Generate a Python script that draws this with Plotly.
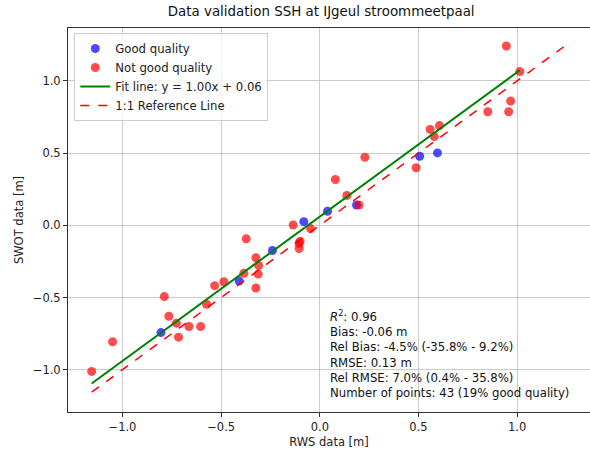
import plotly.graph_objects as go
import numpy as np

good_x = [-0.805, -0.409, -0.240, -0.081, 0.039, 0.186, 0.506, 0.596]
good_y = [-0.743, -0.386, -0.175, 0.025, 0.097, 0.140, 0.478, 0.501]

bad_x = [-1.156, -1.050, -0.788, -0.765, -0.727, -0.716, -0.663, -0.604, -0.574,
         -0.533, -0.486, -0.385, -0.373, -0.324, -0.310, -0.312, -0.324, -0.135,
         -0.105, -0.105, -0.100, -0.047, 0.079, 0.137, 0.199, 0.228, 0.488, 0.559,
         0.580, 0.606, 0.851, 0.957, 0.967, 0.945, 1.013]
bad_y = [-1.012, -0.807, -0.494, -0.630, -0.678, -0.775, -0.701, -0.701, -0.547,
         -0.418, -0.391, -0.333, -0.094, -0.225, -0.278, -0.338, -0.434, 0.002,
         -0.126, -0.161, -0.110, -0.023, 0.317, 0.207, 0.140, 0.471, 0.398, 0.664,
         0.614, 0.690, 0.786, 0.786, 0.860, 1.241, 1.064]

fit_slope = 1.00
fit_intercept = 0.06

stats_lines = [
    "<i>R</i><sup>2</sup>: 0.96",
    "Bias: -0.06 m",
    "Rel Bias: -4.5% (-35.8% - 9.2%)",
    "RMSE: 0.13 m",
    "Rel RMSE: 7.0% (0.4% - 35.8%)",
    "Number of points: 43 (19% good quality)",
]

all_x = np.array(good_x + bad_x)
all_y = np.array(good_y + bad_y)
fx = np.array([all_x.min(), all_x.max()])
fy = fit_slope * fx + fit_intercept
lo = min(all_x.min(), all_y.min())
hi = max(all_x.max(), all_y.max())

font = "DejaVu Sans"
fig = go.Figure()
fig.add_trace(go.Scatter(x=good_x, y=good_y, mode="markers", name="Good quality",
                         marker=dict(color="rgba(0,0,255,0.7)", size=9, line=dict(width=0))))
fig.add_trace(go.Scatter(x=bad_x, y=bad_y, mode="markers", name="Not good quality",
                         marker=dict(color="rgba(255,0,0,0.7)", size=9, line=dict(width=0))))
fig.add_trace(go.Scatter(x=fx, y=fy, mode="lines",
                         name=f"Fit line: y = {fit_slope:.2f}x + {fit_intercept:.2f}",
                         line=dict(color="green", width=2)))
fig.add_trace(go.Scatter(x=[lo, hi], y=[lo, hi], mode="lines", name="1:1 Reference Line",
                         line=dict(color="red", width=1.5, dash="dash")))

axis_common = dict(
    showgrid=True, gridcolor="rgba(190,190,190,0.8)", gridwidth=1,
    zeroline=False, showline=True, linecolor="#333", linewidth=1,
    ticks="outside", ticklen=4, tickcolor="#333",
    tickvals=[-1.0, -0.5, 0.0, 0.5, 1.0], tickformat=".1f",
    tickfont=dict(family=font, size=11.5, color="#222"),
)
fig.update_layout(
    width=590, height=452,
    margin=dict(l=68, r=0, t=28, b=40),
    plot_bgcolor="white", paper_bgcolor="white",
    font=dict(family=font, size=11.5, color="#222"),
    title=dict(text="Data validation SSH at IJgeul stroommeetpaal", x=0.485, xref="paper",
               xanchor="center", y=0.974, yanchor="middle", yref="container",
               font=dict(family=font, size=13.4, color="#111")),
    xaxis=dict(range=[-1.276, 1.369], mirror=True,
               title=dict(text="RWS data [m]", font=dict(family=font, size=11.5), standoff=5),
               **axis_common),
    yaxis=dict(range=[-1.293, 1.366], mirror=False,
               title=dict(text="SWOT data [m]", font=dict(family=font, size=11.5), standoff=6),
               **axis_common),
    legend=dict(x=0.012, y=0.987, xanchor="left", yanchor="top",
                bgcolor="rgba(255,255,255,0.8)", bordercolor="#ccc", borderwidth=1,
                font=dict(family=font, size=11.7), tracegroupgap=0, itemwidth=30),
    showlegend=True,
)
fig.add_annotation(text="<br>".join(stats_lines), xref="paper", yref="paper",
                   x=(328 - 68) / 522, y=(412 - 306) / 384, xanchor="left", yanchor="top",
                   align="left", showarrow=False,
                   font=dict(family=font, size=11.7, color="#111"))

fig.write_html("out.html")
